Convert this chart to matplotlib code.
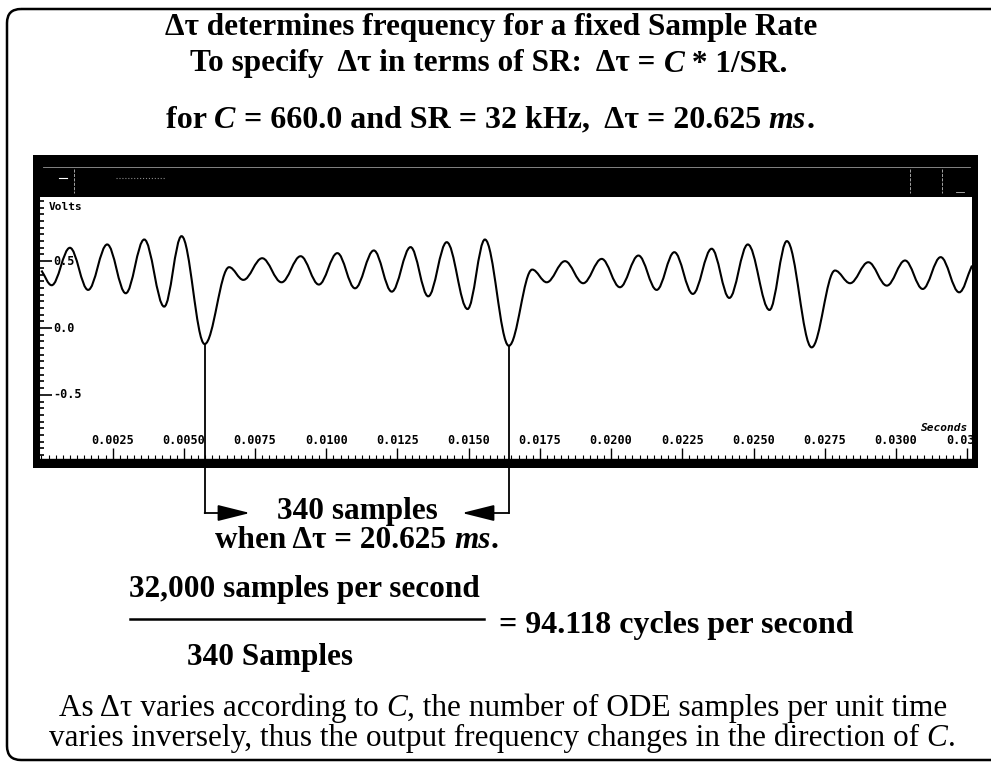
import matplotlib
matplotlib.use('Agg')
import matplotlib.pyplot as plt
from matplotlib import transforms
from matplotlib.patches import Rectangle, FancyBboxPatch, FancyArrowPatch, PathPatch
from matplotlib.path import Path
from matplotlib.lines import Line2D
from matplotlib.ticker import MultipleLocator

W, H = 991, 768

# extrema of the scope trace (seconds, volts)
ext_t = [0.0, 0.00036, 0.00100, 0.00164, 0.00231, 0.00296, 0.00361, 0.00431, 0.00492,
         0.00573, 0.00659, 0.00709, 0.00775, 0.00843, 0.00910, 0.00974, 0.01039, 0.01101,
         0.01167, 0.01230, 0.01296, 0.01358, 0.01423, 0.01496, 0.01557, 0.01641, 0.01723,
         0.01774, 0.01838, 0.01902, 0.01967, 0.02031, 0.02096, 0.02160, 0.02222, 0.02287,
         0.02353, 0.02415, 0.02480, 0.02556, 0.02617, 0.02704, 0.02786, 0.02839, 0.02903,
         0.02968, 0.03032, 0.03094, 0.03157, 0.03222, 0.03267]
ext_v = [0.43, 0.32, 0.60, 0.285, 0.625, 0.26, 0.662, 0.16, 0.687,
         -0.12, 0.455, 0.36, 0.522, 0.342, 0.537, 0.325, 0.56, 0.297,
         0.58, 0.272, 0.605, 0.237, 0.642, 0.142, 0.662, -0.133, 0.437,
         0.342, 0.50, 0.335, 0.517, 0.305, 0.542, 0.285, 0.567, 0.255,
         0.593, 0.225, 0.625, 0.135, 0.65, -0.145, 0.43, 0.335, 0.492,
         0.317, 0.505, 0.292, 0.53, 0.267, 0.467]
# the two troughs 340 samples apart (indices into the lists above)
marked = [9, 25]

xticks = [0.0025, 0.0050, 0.0075, 0.0100, 0.0125, 0.0150, 0.0175,
          0.0200, 0.0225, 0.0250, 0.0275, 0.0300, 0.0325]
xtick_labels = ['0.0025', '0.0050', '0.0075', '0.0100', '0.0125', '0.0150', '0.0175',
                '0.0200', '0.0225', '0.0250', '0.0275', '0.0300', '0.0325']
yticks = [-0.5, 0.0, 0.5]
ytick_labels = ['-0.5', '0.0', '0.5']

SERIF = 'Liberation Serif'
MONO = 'DejaVu Sans Mono'

fig = plt.figure(figsize=(W / 100, H / 100), dpi=100)
fig.patch.set_facecolor('white')
# image pixel coordinates, y pointing down
pix = transforms.Affine2D().scale(1, -1).translate(0, H)
renderer = fig.canvas.get_renderer()


def seg_width(s, **kw):
    a = fig.text(0, 0, '|' + s + '|', **kw)
    b = fig.text(0, 0, '||', **kw)
    w = a.get_window_extent(renderer).width - b.get_window_extent(renderer).width
    a.remove()
    b.remove()
    return w


def rich(x, y, parts, size, weight='bold', ha='center'):
    # parts: list of (text, italic?)
    kws = []
    widths = []
    for s, it in parts:
        kw = dict(family=SERIF, size=size, weight=weight, style='italic' if it else 'normal')
        kws.append(kw)
        widths.append(seg_width(s, **kw))
    total = sum(widths)
    x0 = x - total / 2 if ha == 'center' else x
    for (s, it), kw, w in zip(parts, kws, widths):
        fig.text(x0, y, s, transform=pix, va='center', ha='left', **kw)
        x0 += w


# outer rounded frame (open on the right side of the page)
fig.add_artist(FancyBboxPatch((7, 9), 1100, 751, boxstyle='round,pad=0,rounding_size=14',
                              transform=pix, fill=False, ec='black', lw=1.8))

# heading
rich(491, 27, [('Δτ determines frequency for a fixed Sample Rate', False)], 22.5)
rich(489, 64, [('To specify  Δτ in terms of SR:  Δτ = ', False), ('C', True), (' * 1/SR.', False)], 22.5)
rich(490, 120, [('for ', False), ('C', True), (' = 660.0 and SR = 32 kHz,  Δτ = 20.625 ', False),
                ('ms', True), ('.', False)], 23)

# scope window: black frame and title bar
fig.add_artist(Rectangle((33, 155), 945, 313, transform=pix, fc='black', ec='none', zorder=0))
fig.add_artist(Line2D([43, 970], [167, 167], transform=pix, color='#9a9a9a', lw=0.6))
fig.add_artist(Line2D([59, 67], [178, 178], transform=pix, color='white', lw=0.8))
fig.add_artist(Line2D([116, 166], [178, 178], transform=pix, color='#8a8a8a', lw=0.8, ls=':'))
for xb in [74, 910, 942]:
    fig.add_artist(Line2D([xb, xb], [169, 193], transform=pix, color='#bdbdbd', lw=0.6, ls='--'))
fig.add_artist(Line2D([956, 964], [192, 192], transform=pix, color='#bdbdbd', lw=0.6))

ax = fig.add_axes([38 / W, 1 - 459 / H, (972 - 38) / W, (459 - 197) / H])
ax.set_facecolor('white')
ax.set_xlim(-0.00012, 0.03267)
ax.set_ylim(-0.98, 0.98)
for side in ['top', 'right']:
    ax.spines[side].set_visible(False)
ax.spines['left'].set_linewidth(2.2)
ax.spines['bottom'].set_linewidth(1.0)

ax.set_xticks(xticks)
ax.xaxis.set_minor_locator(MultipleLocator(0.00025))
ax.set_yticks(yticks)
ax.yaxis.set_minor_locator(MultipleLocator(0.05))
ax.tick_params(axis='x', which='major', direction='in', length=8, width=1.0, labelbottom=False)
ax.tick_params(axis='x', which='minor', direction='in', length=3, width=0.8)
ax.tick_params(axis='y', which='major', direction='in', length=10, width=1.2, labelleft=False)
ax.tick_params(axis='y', which='minor', direction='in', length=4, width=1.2)

# tick labels sit inside the plot, as on the scope screen
xlab_tr = transforms.blended_transform_factory(ax.transData, pix)
for t, lab in zip(xticks, xtick_labels):
    ax.text(t, 441, lab, transform=xlab_tr, ha='center', va='center', family=MONO,
            weight='bold', size=8.5, clip_on=True)
ylab_tr = transforms.blended_transform_factory(pix, ax.transData)
for v, lab in zip(yticks, ytick_labels):
    ax.text(53, v, lab, transform=ylab_tr, ha='left', va='center', family=MONO,
            weight='bold', size=8.5)
ax.text(49, 207, 'Volts', transform=pix, ha='left', va='center', family=MONO, weight='bold', size=8)
ax.text(968, 428, 'Seconds', transform=pix, ha='right', va='center', family=MONO,
        weight='bold', style='italic', size=8)

# the trace: smooth curve through the extrema
k = 0.364
verts = [(ext_t[0], ext_v[0])]
codes = [Path.MOVETO]
n = len(ext_t)
for i in range(n - 1):
    x0, y0, x1, y1 = ext_t[i], ext_v[i], ext_t[i + 1], ext_v[i + 1]
    dx = x1 - x0
    c1y = y0 if i > 0 else y0 + (y1 - y0) * k
    c2y = y1 if i + 1 < n - 1 else y1 - (y1 - y0) * k
    verts += [(x0 + k * dx, c1y), (x1 - k * dx, c2y), (x1, y1)]
    codes += [Path.CURVE4] * 3
ax.add_patch(PathPatch(Path(verts, codes), fill=False, ec='black', lw=1.5))

# bracket arrows from the two marked troughs
fig.canvas.draw()
corner_y = 513
tips = [250, 462]
for idx, tip in zip(marked, tips):
    px_x, px_y = ax.transData.transform((ext_t[idx], ext_v[idx]))
    xi, yi = px_x, H - px_y
    fig.add_artist(Line2D([xi, xi], [yi, corner_y], transform=pix, color='black', lw=1.3, zorder=5))
    fig.add_artist(FancyArrowPatch((xi, corner_y), (tip, corner_y), transform=pix,
                                   arrowstyle='-|>,head_length=20,head_width=5',
                                   mutation_scale=1, color='black', lw=1.3,
                                   shrinkA=0, shrinkB=0, zorder=5))

rich(357, 511, [('340 samples', False)], 22.5)
rich(357, 541, [('when Δτ = 20.625 ', False), ('ms', True), ('.', False)], 22.5)

rich(304, 590, [('32,000 samples per second', False)], 22.5)
fig.add_artist(Line2D([130, 484], [619, 619], transform=pix, color='black', lw=1.8))
rich(499, 625, [('= 94.118 cycles per second', False)], 23, ha='left')
rich(270, 658, [('340 Samples', False)], 22.5)

rich(503, 708, [('As Δτ varies according to ', False), ('C', True),
                (', the number of ODE samples per unit time', False)], 22.5, weight='normal')
rich(502, 738, [('varies inversely, thus the output frequency changes in the direction of ', False),
                ('C', True), ('.', False)], 22.5, weight='normal')

fig.savefig('out.png', dpi=100)
